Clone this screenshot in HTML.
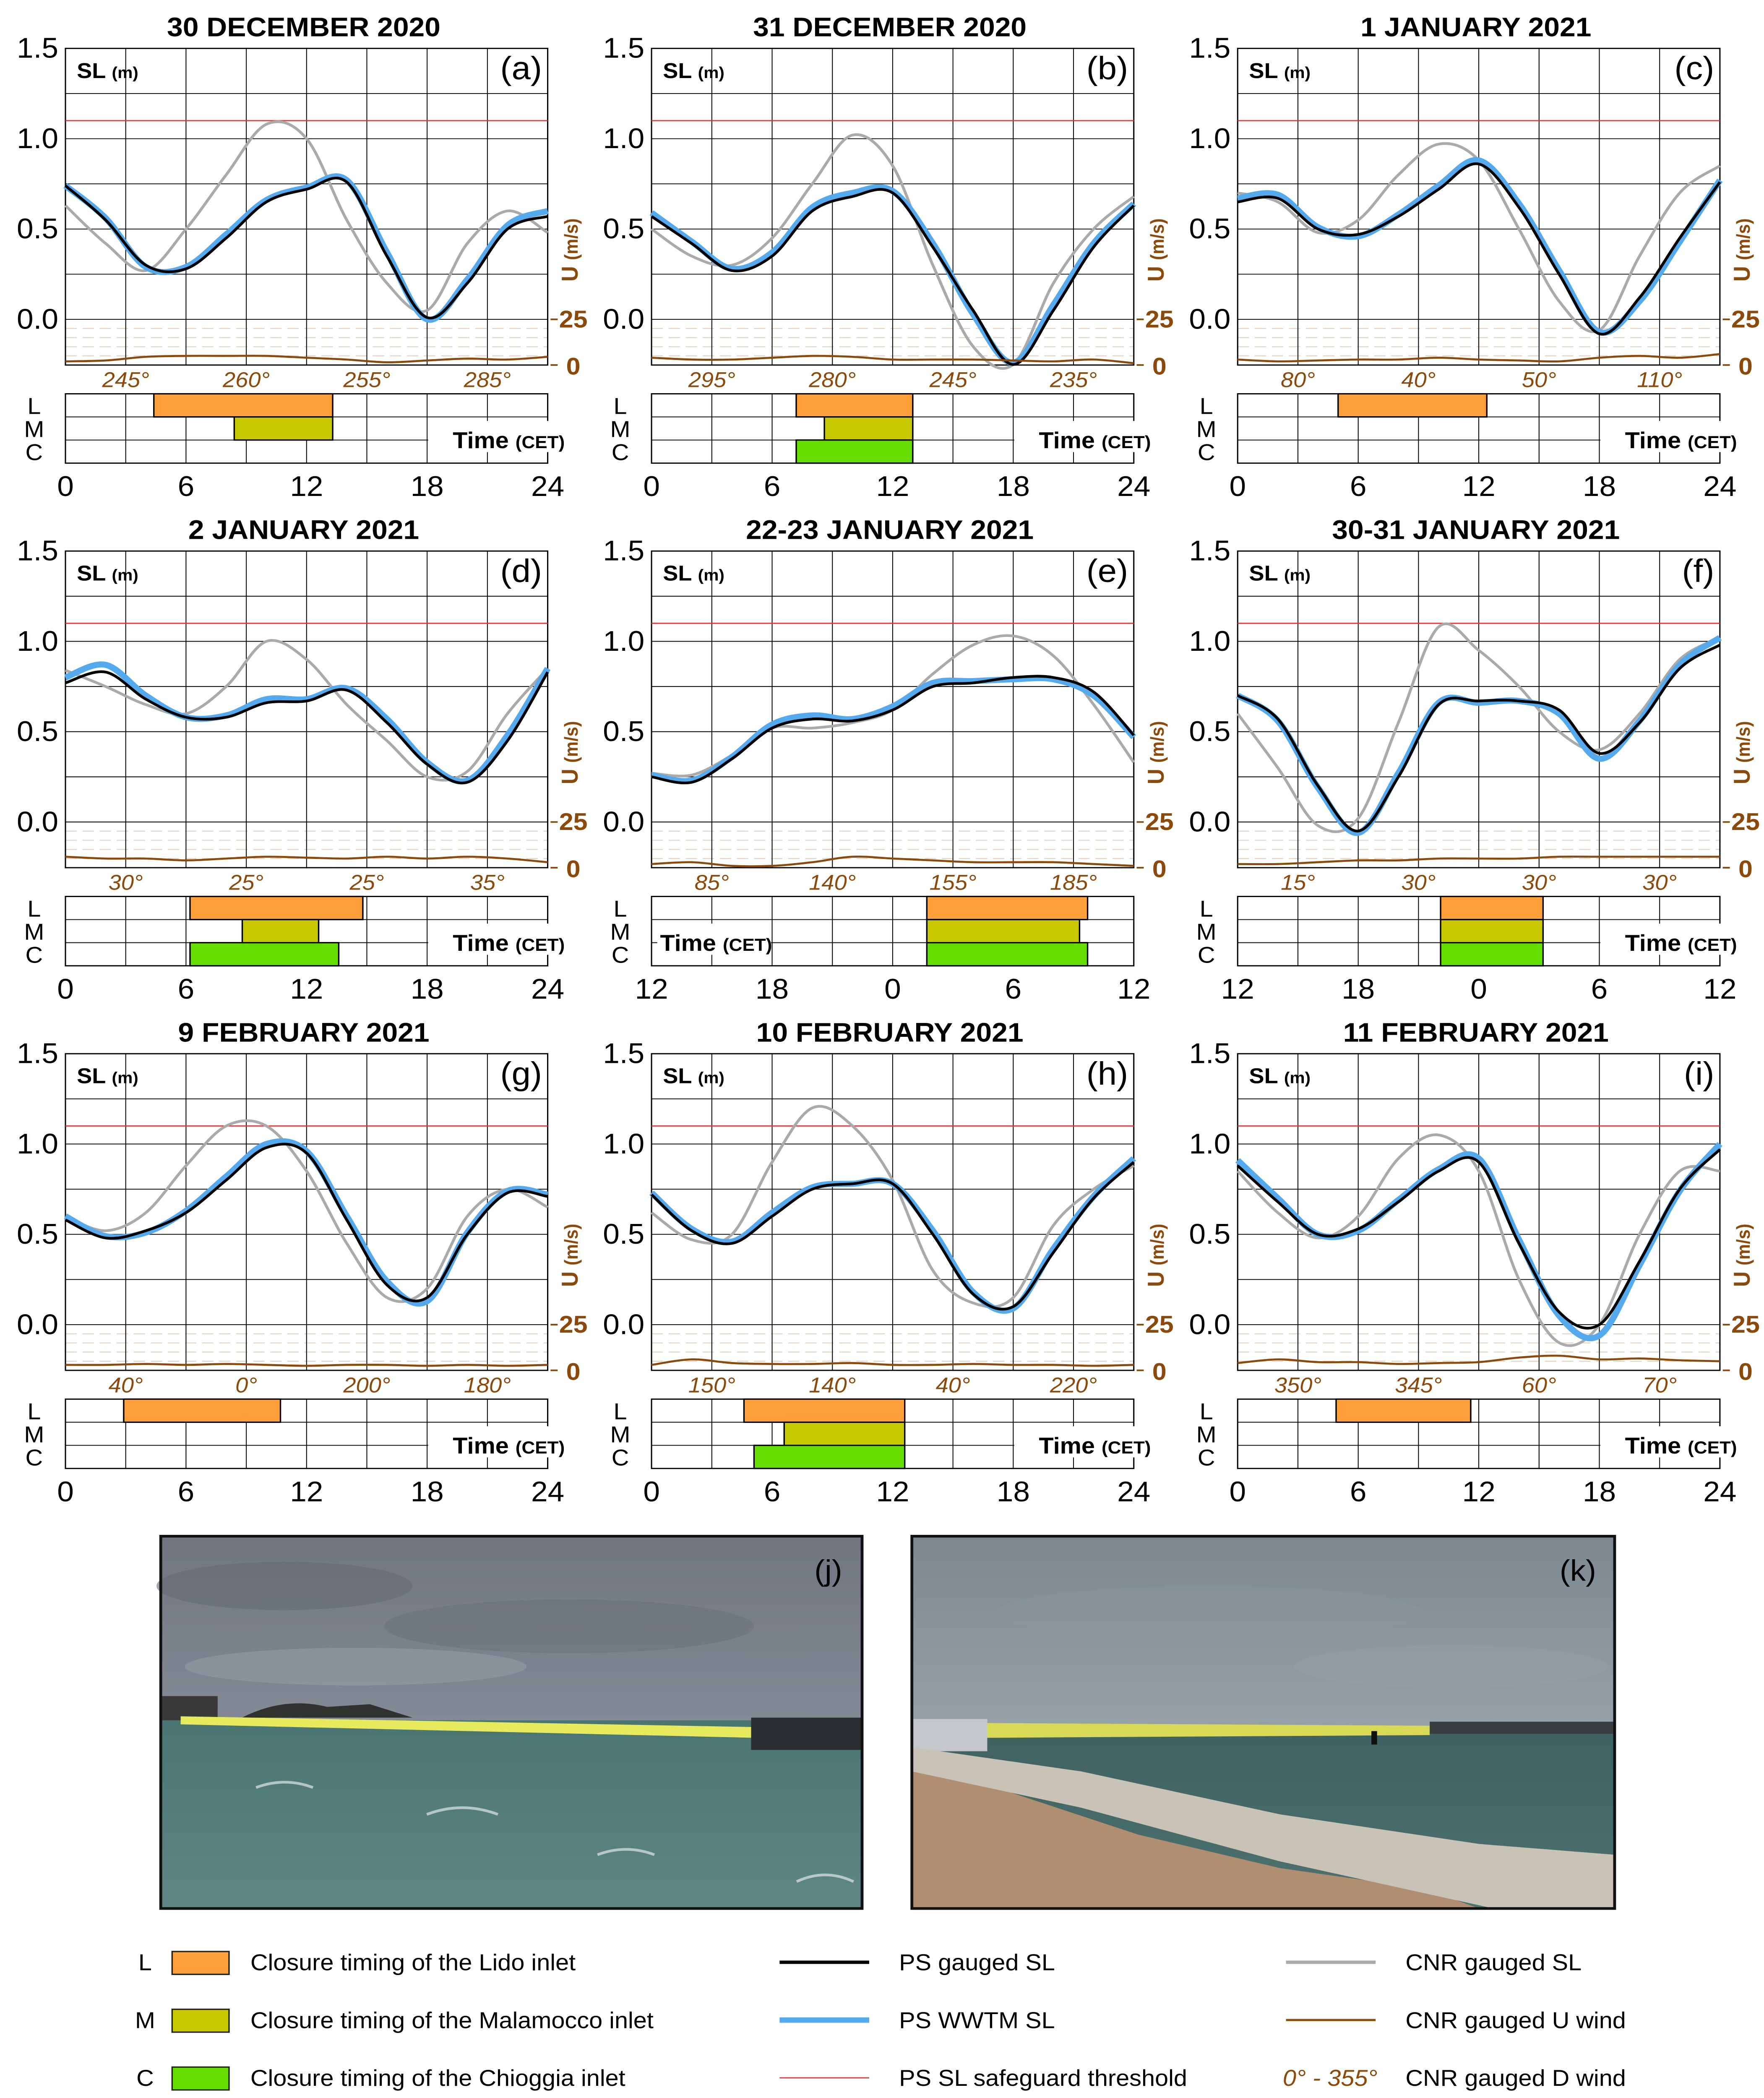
<!DOCTYPE html>
<html><head><meta charset="utf-8">
<style>
html,body{margin:0;padding:0;background:#fff;width:100%;height:100%;overflow:hidden;}
svg{display:block;width:100vw;height:100vh;font-family:"Liberation Sans","DejaVu Sans",sans-serif;}
</style></head>
<body>
<svg id="fig" width="100%" height="100%" viewBox="0 0 1240 1561" preserveAspectRatio="none" xmlns="http://www.w3.org/2000/svg">
<defs>
<linearGradient id="skyJ" x1="0" y1="0" x2="0" y2="1"><stop offset="0" stop-color="#70757f"/><stop offset="0.5" stop-color="#848a95"/><stop offset="1" stop-color="#9ea3ab"/></linearGradient>
<linearGradient id="seaJ" x1="0" y1="0" x2="0" y2="1"><stop offset="0" stop-color="#4a7572"/><stop offset="1" stop-color="#5f8682"/></linearGradient>
<linearGradient id="skyK" x1="0" y1="0" x2="0" y2="1"><stop offset="0" stop-color="#7c878f"/><stop offset="0.7" stop-color="#a0abb0"/><stop offset="1" stop-color="#b9c1c3"/></linearGradient>
<linearGradient id="seaK" x1="0" y1="0" x2="0" y2="1"><stop offset="0" stop-color="#3f6261"/><stop offset="1" stop-color="#4d7270"/></linearGradient>
</defs>
<g id="plots"></g>
<g id="photos">
 <g>
  <rect x="113" y="1143" width="493" height="277" fill="url(#skyJ)"/>
  <ellipse cx="200" cy="1180" rx="90" ry="18" fill="#656b75" opacity="0.6"/>
  <ellipse cx="400" cy="1210" rx="130" ry="20" fill="#6a707a" opacity="0.5"/>
  <ellipse cx="250" cy="1240" rx="120" ry="14" fill="#9aa0a8" opacity="0.5"/>
  <rect x="113" y="1262" width="40" height="18" fill="#3a3a3a"/>
  <path d="M170,1278 Q200,1262 230,1270 L260,1268 L290,1278 Z" fill="#30322f"/>
  <rect x="113" y="1280" width="493" height="140" fill="url(#seaJ)"/>
  <polygon points="127,1277 530,1285 530,1293 127,1283" fill="#e6ea5c"/>
  <rect x="528" y="1278" width="78" height="24" fill="#2a2d30"/>
  <path d="M180,1330 q20,-8 40,0 M300,1350 q25,-10 50,0 M420,1380 q20,-8 40,0 M560,1400 q20,-10 40,0" stroke="#dfe6e4" stroke-width="2" fill="none" opacity="0.7"/>
  <rect x="113" y="1143" width="493" height="277" fill="none" stroke="#111" stroke-width="2"/>
  <text x="592" y="1176" font-size="22" text-anchor="end">(j)</text>
 </g>
 <g>
  <rect x="641" y="1143" width="494" height="277" fill="url(#skyK)"/>
  <ellipse cx="850" cy="1200" rx="150" ry="20" fill="#8a959c" opacity="0.5"/>
  <ellipse cx="1020" cy="1240" rx="110" ry="16" fill="#95a0a6" opacity="0.5"/>
  <rect x="641" y="1288" width="494" height="132" fill="url(#seaK)"/>
  <polygon points="693,1282 1005,1284 1005,1291 693,1293" fill="#d8d957"/>
  <rect x="641" y="1279" width="53" height="24" fill="#c5c8ca"/>
  <rect x="1005" y="1281" width="130" height="9" fill="#3a3d40"/>
  <rect x="964" y="1288" width="4" height="10" fill="#111"/>
  <polygon points="641,1310 700,1330 800,1365 900,1390 1000,1405 1040,1420 641,1420" fill="#b08e72"/>
  <polygon points="641,1300 760,1318 900,1350 1040,1372 1135,1380 1135,1420 1050,1420 900,1385 760,1345 641,1318" fill="#c9c2b6"/>
  <rect x="641" y="1143" width="494" height="277" fill="none" stroke="#111" stroke-width="2"/>
  <text x="1122" y="1176" font-size="22" text-anchor="end">(k)</text>
 </g>
</g>
<g id="legend" font-size="17">
 <g><text x="102" y="1466" text-anchor="middle">L</text><rect x="121" y="1452" width="40" height="17" fill="#FF9F3A" stroke="#222"/><text x="176" y="1466">Closure timing of the Lido inlet</text></g>
 <g><text x="102" y="1509" text-anchor="middle">M</text><rect x="121" y="1495" width="40" height="17" fill="#C8C800" stroke="#222"/><text x="176" y="1509">Closure timing of the Malamocco inlet</text></g>
 <g><text x="102" y="1552" text-anchor="middle">C</text><rect x="121" y="1538" width="40" height="17" fill="#66DD00" stroke="#222"/><text x="176" y="1552">Closure timing of the Chioggia inlet</text></g>
 <g><line x1="548" y1="1460" x2="611" y2="1460" stroke="#000" stroke-width="2.5"/><text x="632" y="1466">PS gauged SL</text></g>
 <g><line x1="548" y1="1503" x2="611" y2="1503" stroke="#55AAEE" stroke-width="4"/><text x="632" y="1509">PS WWTM SL</text></g>
 <g><line x1="548" y1="1546" x2="611" y2="1546" stroke="#E03030" stroke-width="0.8"/><text x="632" y="1552">PS SL safeguard threshold</text></g>
 <g><line x1="904" y1="1460" x2="967" y2="1460" stroke="#AAAAAA" stroke-width="2.5"/><text x="988" y="1466">CNR gauged SL</text></g>
 <g><line x1="904" y1="1503" x2="967" y2="1503" stroke="#8B4A0C" stroke-width="1.6"/><text x="988" y="1509">CNR gauged U wind</text></g>
 <g><text x="935" y="1552" text-anchor="middle" fill="#8B4A0C" font-style="italic">0° - 355°</text><text x="988" y="1552">CNR gauged D wind</text></g>
</g>
</svg>
<script>
const hours=[0,2,4,6,8,10,12,14,16,18,20,22,24];
const titles=["30 DECEMBER 2020","31 DECEMBER 2020","1 JANUARY 2021","2 JANUARY 2021","22-23 JANUARY 2021","30-31 JANUARY 2021","9 FEBRUARY 2021","10 FEBRUARY 2021","11 FEBRUARY 2021"];
const letters=["a","b","c","d","e","f","g","h","i"];
const psA=[0.74,0.55,0.30,0.28,0.45,0.65,0.72,0.76,0.35,0.01,0.20,0.50,0.57];
const wwA=[0.74,0.56,0.29,0.29,0.47,0.66,0.73,0.77,0.37,0.00,0.22,0.52,0.60];
const cnA=[0.63,0.42,0.27,0.50,0.80,1.08,1.00,0.55,0.20,0.05,0.42,0.60,0.48];
const wnA=[2,2.5,4.5,5,5,5,4,3,1.5,2.5,3.5,3,4.5];
const psB=[0.57,0.42,0.27,0.35,0.60,0.68,0.70,0.40,0.05,-0.25,0.05,0.40,0.63];
const wwB=[0.59,0.43,0.28,0.37,0.62,0.70,0.71,0.42,0.03,-0.24,0.08,0.42,0.64];
const cnB=[0.50,0.35,0.30,0.45,0.75,1.02,0.85,0.30,-0.15,-0.25,0.20,0.50,0.68];
const wnB=[4,3,3,4,5,4.5,3,3,3,2.5,2,3,1];
const psC=[0.65,0.67,0.50,0.47,0.57,0.72,0.86,0.62,0.25,-0.08,0.12,0.45,0.76];
const wwC=[0.67,0.69,0.51,0.46,0.58,0.74,0.88,0.64,0.27,-0.07,0.10,0.43,0.77];
const cnC=[0.70,0.65,0.48,0.55,0.80,0.97,0.88,0.50,0.10,-0.06,0.35,0.70,0.85];
const wnC=[3,2,2.5,3,3,4,3,2.5,2,4,5,4,6];
const psD=[0.77,0.83,0.68,0.58,0.58,0.66,0.67,0.73,0.55,0.32,0.22,0.45,0.83];
const wwD=[0.80,0.87,0.70,0.58,0.59,0.68,0.68,0.74,0.57,0.33,0.23,0.48,0.85];
const cnD=[0.84,0.75,0.65,0.60,0.75,1.00,0.90,0.65,0.45,0.25,0.28,0.60,0.85];
const wnD=[6,5,5,4,5,6,5.5,5,6,5,6,5,3];
const psE=[0.25,0.22,0.35,0.52,0.57,0.56,0.62,0.75,0.77,0.80,0.80,0.72,0.48];
const wwE=[0.26,0.23,0.36,0.54,0.59,0.57,0.64,0.77,0.78,0.79,0.79,0.70,0.47];
const cnE=[0.27,0.26,0.37,0.52,0.52,0.55,0.62,0.82,0.98,1.03,0.92,0.65,0.33];
const wnE=[2,3,1,1,3,6,5,4,3,3,3,2,1];
const psF=[0.70,0.57,0.20,-0.05,0.25,0.65,0.67,0.67,0.62,0.38,0.55,0.85,0.98];
const wwF=[0.70,0.56,0.19,-0.06,0.27,0.66,0.66,0.67,0.60,0.35,0.56,0.87,1.02];
const cnF=[0.60,0.30,-0.02,0.02,0.55,1.08,0.95,0.75,0.50,0.40,0.60,0.90,1.02];
const wnF=[2,2,3,4,4,5,5,5,6,6,6,6,6];
const psG=[0.58,0.48,0.52,0.62,0.80,0.98,0.95,0.58,0.22,0.15,0.50,0.73,0.71];
const wwG=[0.60,0.49,0.51,0.63,0.82,1.00,0.96,0.60,0.24,0.13,0.51,0.74,0.72];
const cnG=[0.60,0.52,0.62,0.88,1.10,1.10,0.85,0.45,0.15,0.20,0.60,0.75,0.65];
const wnG=[3,3,3.5,3,3.5,3,2.5,3,3,2.5,3,2.5,3];
const psH=[0.72,0.52,0.45,0.60,0.75,0.78,0.78,0.50,0.17,0.10,0.40,0.70,0.90];
const wwH=[0.73,0.53,0.46,0.62,0.76,0.78,0.78,0.52,0.18,0.09,0.42,0.71,0.92];
const cnH=[0.62,0.47,0.50,0.90,1.20,1.10,0.80,0.30,0.12,0.15,0.55,0.75,0.88];
const wnH=[3,6,4,3.5,3.5,4,3,3,3.5,3,3,2.5,3];
const psI=[0.88,0.68,0.50,0.53,0.68,0.85,0.90,0.45,0.07,0.00,0.35,0.75,0.97];
const wwI=[0.91,0.70,0.50,0.52,0.69,0.86,0.92,0.47,0.05,-0.06,0.33,0.74,1.00];
const cnI=[0.85,0.62,0.48,0.60,0.92,1.05,0.85,0.25,-0.10,0.00,0.50,0.85,0.85];
const wnI=[4,6,4.5,4.5,3.5,4,4.5,7,8,6,6.5,5.5,5];
const dirLabels=[["245°","260°","255°","285°"],["295°","280°","245°","235°"],["80°","40°","50°","110°"],["30°","25°","25°","35°"],["85°","140°","155°","185°"],["15°","30°","30°","30°"],["40°","0°","200°","180°"],["150°","140°","40°","220°"],["350°","345°","60°","70°"]];
const closureL=[[4.4,13.3],[7.2,13],[5,12.4],[6.2,14.8],[13.7,21.7],[10.1,15.2],[2.9,10.7],[4.6,12.6],[4.9,11.6]];
const closureM=[[8.4,13.3],[8.6,13],null,[8.8,12.6],[13.7,21.3],[10.1,15.2],null,[6.6,12.6],null];
const closureC=[null,[7.2,13],null,[6.2,13.6],[13.7,21.7],[10.1,15.2],null,[5.1,12.6],null];
const xTicksDay=["0","6","12","18","24"];
const xTicksShift=["12","18","0","6","12"];
const threshold=1.10;

const PS=[psA,psB,psC,psD,psE,psF,psG,psH,psI];
const WW=[wwA,wwB,wwC,wwD,wwE,wwF,wwG,wwH,wwI];
const CN=[cnA,cnB,cnC,cnD,cnE,cnF,cnG,cnH,cnI];
const WN=[wnA,wnB,wnC,wnD,wnE,wnF,wnG,wnH,wnI];

const NS="http://www.w3.org/2000/svg";
const root=document.getElementById('plots');
function mk(tag,attrs,parent){const e=document.createElementNS(NS,tag);for(const k in attrs)e.setAttribute(k,attrs[k]);(parent||root).appendChild(e);return e;}
function smooth(pts){let d="M"+pts[0][0].toFixed(2)+","+pts[0][1].toFixed(2);
 for(let i=0;i<pts.length-1;i++){const p0=pts[Math.max(0,i-1)],p1=pts[i],p2=pts[i+1],p3=pts[Math.min(pts.length-1,i+2)];
  const c1x=p1[0]+(p2[0]-p0[0])/6,c1y=p1[1]+(p2[1]-p0[1])/6,c2x=p2[0]-(p3[0]-p1[0])/6,c2y=p2[1]-(p3[1]-p1[1])/6;
  d+=" C"+c1x.toFixed(2)+","+c1y.toFixed(2)+" "+c2x.toFixed(2)+","+c2y.toFixed(2)+" "+p2[0].toFixed(2)+","+p2[1].toFixed(2);}
 return d;}

for(let p=0;p<9;p++){
 const col=p%3,row=Math.floor(p/3);
 const x0=46+412*col,w=339,yTop=36+374*row;
 const xs=h=>x0+h/24*w;
 const ys=v=>yTop+(1.5-v)*134.4;
 const yw=u=>yTop+201.6+(25-u)/25*34;
 const g=mk('g',{});
 
 
 const title=mk('text',{x:x0+w/2-2,y:yTop-9,'font-size':20,'font-weight':'bold','text-anchor':'middle'},g);
 title.textContent=titles[p];
 
 
 for(let k=0;k<=6;k++){mk('line',{x1:x0,x2:x0+w,y1:ys(1.5-k*0.25),y2:ys(1.5-k*0.25),stroke:'#000','stroke-width':0.6},g);}
 for(let u=5;u<=20;u+=5){mk('line',{x1:x0,x2:x0+w,y1:yw(u),y2:yw(u),stroke:'#e6d2c0','stroke-width':0.7,'stroke-dasharray':'8,4'},g);}
 for(let h=3;h<24;h+=3){mk('line',{x1:xs(h),x2:xs(h),y1:yTop,y2:yw(0),stroke:'#000','stroke-width':0.6},g);}
 mk('rect',{x:x0,y:yTop,width:w,height:yw(0)-yTop,fill:'none',stroke:'#000','stroke-width':0.9},g);
 const th=mk('line',{x1:x0,x2:x0+w,y1:ys(threshold),y2:ys(threshold),stroke:'#E03030','stroke-width':0.8},g);
 
 
 ["1.5","1.0","0.5","0.0"].forEach((t,i)=>{const tx=mk('text',{x:x0-5,y:ys(1.5-i*0.5)+7,'font-size':21,'text-anchor':'end'},g);tx.textContent=t;
  
  });
 mk('line',{x1:x0+w+2,x2:x0+w+7,y1:yw(25),y2:yw(25),stroke:'#8B4A0C','stroke-width':1.2},g);
 mk('line',{x1:x0+w+2,x2:x0+w+7,y1:yw(0),y2:yw(0),stroke:'#8B4A0C','stroke-width':1.2},g);
 const w25=mk('text',{x:x0+w+8,y:yw(25)+6,'font-size':18,'font-weight':'bold',fill:'#8B4A0C'},g);w25.textContent="25";
 
 
 const w0=mk('text',{x:x0+w+13,y:yw(0)+7,'font-size':18,'font-weight':'bold',fill:'#8B4A0C'},g);w0.textContent="0";
 
 
 const ut=mk('text',{x:0,y:0,'font-size':16,'font-weight':'bold',fill:'#8B4A0C','text-anchor':'middle',transform:'translate('+(x0+w+21)+','+(yTop+150)+') rotate(-90)'},g);
 ut.innerHTML='U <tspan font-size="13">(m/s)</tspan>';
 
 
 const sl=mk('text',{x:x0+8,y:yTop+22,'font-size':16,'font-weight':'bold'},g);
 sl.innerHTML='SL <tspan font-size="12">(m)</tspan>';
 
 
 const lt=mk('text',{x:x0+w-4,y:yTop+23,'font-size':24,'text-anchor':'end'},g);lt.textContent='('+letters[p]+')';
 
 
 const cpts=hours.map((h,i)=>[xs(h),ys(CN[p][i])]);
 const cl=mk('path',{d:smooth(cpts),fill:'none',stroke:'#AAAAAA','stroke-width':2},g);
 
 
 const wpts=hours.map((h,i)=>[xs(h),ys(WW[p][i])]);
 const wl=mk('path',{d:smooth(wpts),fill:'none',stroke:'#55AAEE','stroke-width':4.5},g);
 
 
 const ppts=hours.map((h,i)=>[xs(h),ys(PS[p][i])]);
 const pl=mk('path',{d:smooth(ppts),fill:'none',stroke:'#000','stroke-width':2},g);
 
 
 const upts=hours.map((h,i)=>[xs(h),yw(WN[p][i])]);
 const ul=mk('path',{d:smooth(upts),fill:'none',stroke:'#8B4A0C','stroke-width':1.5},g);
 
 
 dirLabels[p].forEach((t,i)=>{const dt=mk('text',{x:xs(3+6*i),y:yTop+252,'font-size':16,'font-style':'italic',fill:'#8B4A0C','text-anchor':'middle'},g);dt.textContent=t;
  
  });
 const cy0=yTop+257,rh=17.2;
 for(let h=3;h<24;h+=3){mk('line',{x1:xs(h),x2:xs(h),y1:cy0,y2:cy0+3*rh,stroke:'#000','stroke-width':0.6},g);}
 mk('line',{x1:x0,x2:x0+w,y1:cy0+rh,y2:cy0+rh,stroke:'#000','stroke-width':0.6},g);
 mk('line',{x1:x0,x2:x0+w,y1:cy0+2*rh,y2:cy0+2*rh,stroke:'#000','stroke-width':0.6},g);
 mk('rect',{x:x0,y:cy0,width:w,height:3*rh,fill:'none',stroke:'#000','stroke-width':0.9},g);
 [[closureL[p],'#FF9F3A','closure-lido'],[closureM[p],'#C8C800','closure-malamocco'],[closureC[p],'#66DD00','closure-chioggia']].forEach((c,i)=>{
  if(!c[0])return;const r=mk('rect',{x:xs(c[0][0]),y:cy0+i*rh,width:xs(c[0][1])-xs(c[0][0]),height:rh,fill:c[1],stroke:'#000','stroke-width':1},g);
  
  });
 ["L","M","C"].forEach((t,i)=>{const tt=mk('text',{x:x0-22,y:cy0+i*rh+15,'font-size':17,'text-anchor':'middle'},g);tt.textContent=t;
  
  });
 const leftTime=(p===4);
 const tx=leftTime?x0+6:x0+w+12;
 const tbx=leftTime?x0+4:x0+w-84;
 mk('rect',{x:tbx,y:cy0+rh+3,width:leftTime?80:96,height:rh+6,fill:'#fff'},g);
 const tl=mk('text',{x:tx,y:cy0+2*rh+6,'font-size':17,'font-weight':'bold','text-anchor':leftTime?'start':'end'},g);
 tl.innerHTML='Time <tspan font-size="13">(CET)</tspan>';
 
 
 const tick=(p===4||p===5)?xTicksShift:xTicksDay;
 tick.forEach((t,i)=>{const xt=mk('text',{x:xs(i*6),y:yTop+333,'font-size':21,'text-anchor':'middle'},g);xt.textContent=t;
  
  });
}
</script>
</body></html>
